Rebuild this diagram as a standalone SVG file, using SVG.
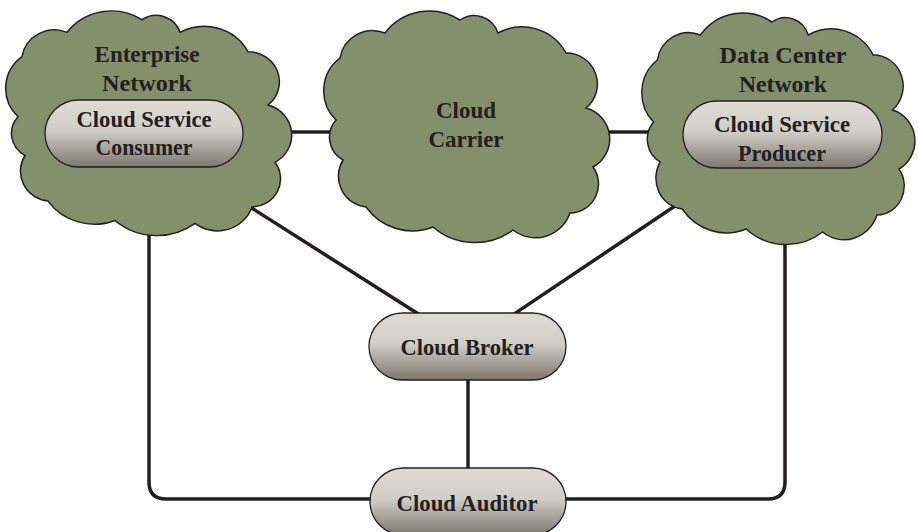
<svg xmlns="http://www.w3.org/2000/svg" width="918" height="532" viewBox="0 0 918 532">
<defs>
<linearGradient id="pillGrad" x1="0" y1="0" x2="0" y2="1">
<stop offset="0" stop-color="#dedbd6"/>
<stop offset="0.45" stop-color="#d2cfc9"/>
<stop offset="1" stop-color="#7d786e"/>
</linearGradient>
<path id="cloudShape" d="M14,48 A33,33 0 0 1 59,23 A56,56 0 0 1 134,10 A25,25 0 0 1 172,23 A50,50 0 0 1 240,43 A31,31 0 0 1 260,98 A32,32 0 0 1 267,157 A29,29 0 0 1 244,203 A36.5,36.5 0 0 1 187,220 A64,64 0 0 1 107,217 A57,57 0 0 1 40,197 A31,31 0 0 1 17,150 A26,26 0 0 1 10,110 A41,41 0 0 1 14,48 Z"/>
</defs>
<style>
.cloud{fill:#848f6b;stroke:#231f20;stroke-width:1.5}
.pill{fill:url(#pillGrad);stroke:#231f20;stroke-width:1.3}
.conn{fill:none;stroke:#231f20;stroke-width:3.5}
text{font-family:"Liberation Serif","Times New Roman",serif;font-weight:bold;font-size:24px;fill:#231f20;text-anchor:middle}
</style>
<rect width="918" height="532" fill="#ffffff"/>
<g id="connectors">
<path class="conn" d="M260,132 H350"/>
<path class="conn" d="M590,132 H670"/>
<path class="conn" d="M240,200.6 L420,315"/>
<path class="conn" d="M685,199.3 L512,315.4"/>
<path class="conn" d="M468,375 V475"/>
<path class="conn" d="M149,205 V482 Q149,499 166,499 H380"/>
<path class="conn" d="M785,205 V482 Q785,499 768,499 H560"/>
</g>
<g id="enterprise-network">
<use href="#cloudShape" class="cloud" transform="translate(8,10) scale(1,0.97)"/>
<text x="147" y="62" textLength="105" lengthAdjust="spacingAndGlyphs">Enterprise</text>
<text x="147" y="91" textLength="90" lengthAdjust="spacingAndGlyphs">Network</text>
</g>
<g id="cloud-carrier">
<use href="#cloudShape" class="cloud" transform="translate(326,10)"/>
<text x="466" y="118" textLength="60" lengthAdjust="spacingAndGlyphs">Cloud</text>
<text x="466" y="147" textLength="75" lengthAdjust="spacingAndGlyphs">Carrier</text>
</g>
<g id="data-center-network">
<use href="#cloudShape" class="cloud" transform="translate(644,12) scale(0.955,1)"/>
<text x="783" y="63" textLength="127" lengthAdjust="spacingAndGlyphs">Data Center</text>
<text x="783" y="92" textLength="88" lengthAdjust="spacingAndGlyphs">Network</text>
</g>
<g id="cloud-service-consumer">
<rect class="pill" x="45" y="100" width="198" height="67" rx="33.5"/>
<text x="144" y="127" textLength="135" lengthAdjust="spacingAndGlyphs">Cloud Service</text>
<text x="144" y="155" textLength="97" lengthAdjust="spacingAndGlyphs">Consumer</text>
</g>
<g id="cloud-service-producer">
<rect class="pill" x="683" y="101" width="199" height="67" rx="33.5"/>
<text x="782" y="132" textLength="136" lengthAdjust="spacingAndGlyphs">Cloud Service</text>
<text x="782" y="161" textLength="88" lengthAdjust="spacingAndGlyphs">Producer</text>
</g>
<g id="cloud-broker">
<rect class="pill" x="369" y="313" width="197" height="67" rx="33.5"/>
<text x="467" y="355" textLength="133" lengthAdjust="spacingAndGlyphs">Cloud Broker</text>
</g>
<g id="cloud-auditor">
<rect class="pill" x="370" y="468" width="196" height="67" rx="33.5"/>
<text x="467" y="511" textLength="141" lengthAdjust="spacingAndGlyphs">Cloud Auditor</text>
</g>
</svg>
